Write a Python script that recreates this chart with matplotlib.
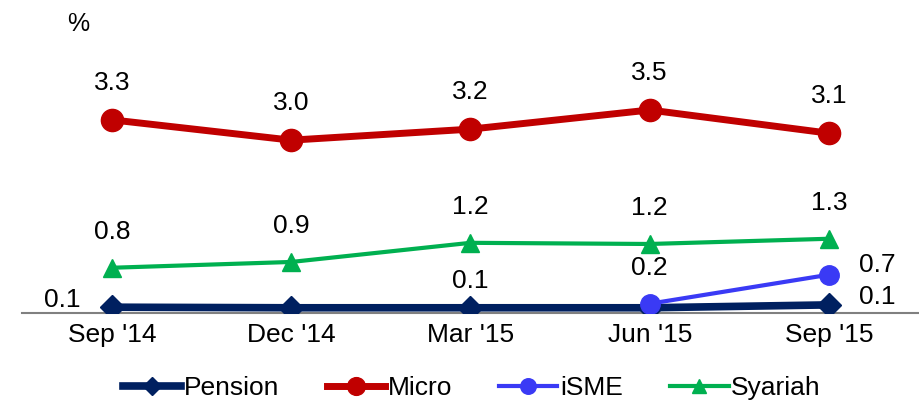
import matplotlib.pyplot as plt

plt.rcParams['font.family'] = ['Liberation Sans', 'DejaVu Sans']

# Données
categories = ["Sep '14", "Dec '14", "Mar '15", "Jun '15", "Sep '15"]
pension = [0.10, 0.09, 0.09, 0.09, 0.14]
micro = [3.33, 2.98, 3.17, 3.50, 3.10]
isme = [None, None, None, 0.16, 0.66]
syariah = [0.78, 0.88, 1.21, 1.19, 1.28]

pension_labels = ['0.1', '', '0.1', '', '0.1']
micro_labels = ['3.3', '3.0', '3.2', '3.5', '3.1']
isme_labels = ['', '', '', '0.2', '0.7']
syariah_labels = ['0.8', '0.9', '1.2', '1.2', '1.3']

# Figure
fig = plt.figure(figsize=(9.2, 4.01), dpi=100)
ax = fig.add_axes([22 / 920, (401 - 313) / 401, 898 / 920, 293 / 401])
x = list(range(len(categories)))

# Courbes
ax.plot(x, micro, color='#C00000', lw=5, marker='o', ms=16, label='Micro', zorder=3)
ax.plot(x, syariah, color='#00B050', lw=3, marker='^', ms=13, label='Syariah', zorder=3)
ax.plot(x, pension, color='#002060', lw=5.5, marker='D', ms=12, label='Pension', zorder=4)
xi = [i for i, v in zip(x, isme) if v is not None]
yi = [v for v in isme if v is not None]
ax.plot(xi, yi, color='#3A3AF5', lw=3, marker='o', ms=14, label='iSME', zorder=5)

# Etiquettes (décalages en pixels convertis en points)
px = 0.72
def labels(vals, texts, offsets):
    for i, (v, t) in enumerate(zip(vals, texts)):
        if v is None or not t:
            continue
        dx, dy = offsets[i]
        ax.annotate(t, (i, v), xytext=(dx * px, dy * px), textcoords='offset points',
                    ha='center', va='center', fontsize=19, color='black')

labels(micro, micro_labels, [(0, 37)] * 5)
labels(syariah, syariah_labels, [(0, 36)] * 5)
labels(pension, pension_labels, [(-50, 7), (0, 0), (0, 27), (0, 0), (48, 8)])
labels(isme, isme_labels, [(0, 0), (0, 0), (0, 0), (0, 36), (48, 10)])

# Axes
ax.set_xlim(-0.502, 4.508)
ax.set_ylim(0, 293 / 58)
ax.set_xticks(x)
ax.set_xticklabels(categories, fontsize=19)
ax.tick_params(axis='x', length=0, pad=7)
ax.set_yticks([])
for s in ['top', 'right', 'left']:
    ax.spines[s].set_visible(False)
ax.spines['bottom'].set_color('#808080')
ax.spines['bottom'].set_linewidth(1.5)
ax.set_facecolor('none')

fig.text(78 / 920, 1 - 24 / 401, '%', fontsize=18, ha='center', va='center')

# Légende
handles, lbls = ax.get_legend_handles_labels()
order = [lbls.index(n) for n in ['Pension', 'Micro', 'iSME', 'Syariah']]
fig.legend([handles[i] for i in order], [lbls[i] for i in order],
           loc='center', bbox_to_anchor=(472 / 920, (401 - 388) / 401), ncol=4,
           frameon=False, fontsize=19, handlelength=2.2, handletextpad=0.1,
           columnspacing=1.8, markerscale=0.8)

fig.savefig('out.png', dpi=100)
